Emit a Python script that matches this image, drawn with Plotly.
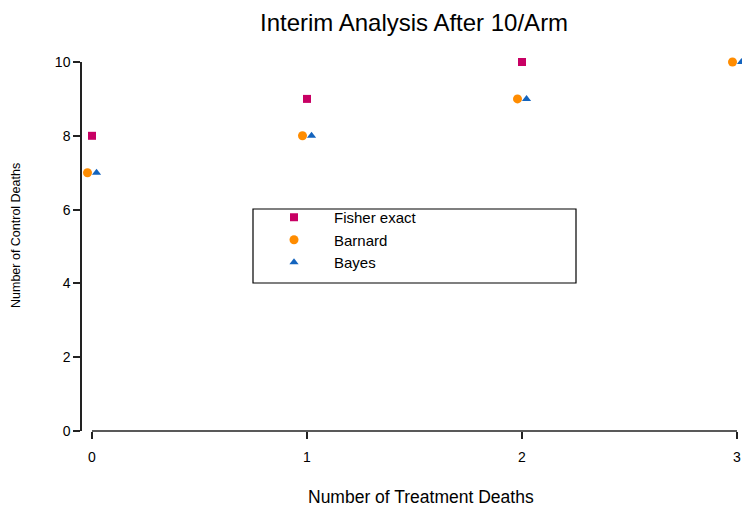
import plotly.graph_objects as go

treat_fisher = [0, 1, 2]
ctrl_fisher = [8, 9, 10]
treat_barnard = [0, 1, 2, 3]
ctrl_barnard = [7, 8, 9, 10]
treat_bayes = [0, 1, 2, 3]
ctrl_bayes = [7, 8, 9, 10]

x_ticks = [0, 1, 2, 3]
y_ticks = [0, 2, 4, 6, 8, 10]

OFF = 8  # page body margin
W, H = 750 - OFF, 507 - OFF
L, R, T, B = 30, 1, 30, 30
pw, ph = W - L - R, H - T - B

def px_x(p):
    return (p - OFF - L) / pw

def px_y(p):
    return (H - B - (p - OFF)) / ph

font = "Liberation Sans, Arial, sans-serif"
dodge = 0.021
pad = 0.05  # extra range so dodged points at the ends stay visible
upx = (737 - 92) / 3.0  # pixels per x unit

fig = go.Figure()
fig.add_trace(go.Scatter(x=treat_fisher, y=ctrl_fisher, mode="markers", name="Fisher exact",
                         marker=dict(symbol="square", size=8, color="#C80064"), cliponaxis=False))
fig.add_trace(go.Scatter(x=[v - dodge for v in treat_barnard], y=ctrl_barnard, mode="markers", name="Barnard",
                         marker=dict(symbol="circle", size=9, color="#FF8C00"), cliponaxis=False))
fig.add_trace(go.Scatter(x=[v + dodge for v in treat_bayes], y=ctrl_bayes, mode="markers", name="Bayes",
                         marker=dict(symbol="triangle-up", size=8, color="#1464BE"), cliponaxis=False))

axis_col = "#222"
fig.update_layout(
    width=W, height=H,
    margin=dict(l=L, r=R, t=T, b=B, autoexpand=False),
    plot_bgcolor="rgba(0,0,0,0)", paper_bgcolor="white",
    font=dict(family=font, size=14, color="black"),
    showlegend=True,
    legend=dict(x=px_x(254), y=px_y(201), xanchor="left", yanchor="top",
                bgcolor="rgba(0,0,0,0)", borderwidth=0,
                font=dict(size=15, family=font), itemwidth=70, tracegroupgap=0),
    xaxis=dict(domain=[px_x(92 - pad * upx), px_x(737 + pad * upx)], range=[-pad, 3 + pad],
               tickvals=x_ticks, automargin=False,
               showline=False, ticks="outside", ticklen=7,
               tickcolor=axis_col, tickwidth=1.5, showgrid=False, zeroline=False,
               ticklabelstandoff=6, tickfont=dict(size=14)),
    yaxis=dict(domain=[px_y(431), px_y(62)], range=[0, 10], tickvals=y_ticks,
               anchor="free", position=px_x(81), automargin=False,
               showline=True, linecolor=axis_col, linewidth=1.5, ticks="outside", ticklen=7,
               tickcolor=axis_col, tickwidth=1.5, showgrid=False, zeroline=False,
               tickfont=dict(size=14)),
    shapes=[
        dict(type="line", xref="x", yref="paper", x0=x_ticks[0], x1=x_ticks[-1],
             y0=px_y(431), y1=px_y(431), line=dict(color=axis_col, width=1.5)),
        dict(type="rect", xref="paper", yref="paper",
             x0=px_x(253), x1=px_x(576), y0=px_y(283), y1=px_y(209),
             line=dict(color="black", width=1.2), fillcolor="rgba(0,0,0,0)"),
    ],
    annotations=[
        dict(text="Interim Analysis After 10/Arm", xref="paper", yref="paper",
             x=px_x(414), y=px_y(OFF), xanchor="center", yanchor="top", borderpad=0,
             showarrow=False, font=dict(size=24)),
        dict(text="Number of Treatment Deaths", xref="paper", yref="paper",
             x=px_x(421), y=px_y(497), xanchor="center", yanchor="middle",
             showarrow=False, font=dict(size=17.5)),
        dict(text="Number of Control Deaths", xref="paper", yref="paper",
             x=px_x(OFF), y=px_y(236), xanchor="left", yanchor="middle", borderpad=0,
             showarrow=False, textangle=-90, font=dict(size=12.5)),
    ],
)

fig.write_html("out.html")
